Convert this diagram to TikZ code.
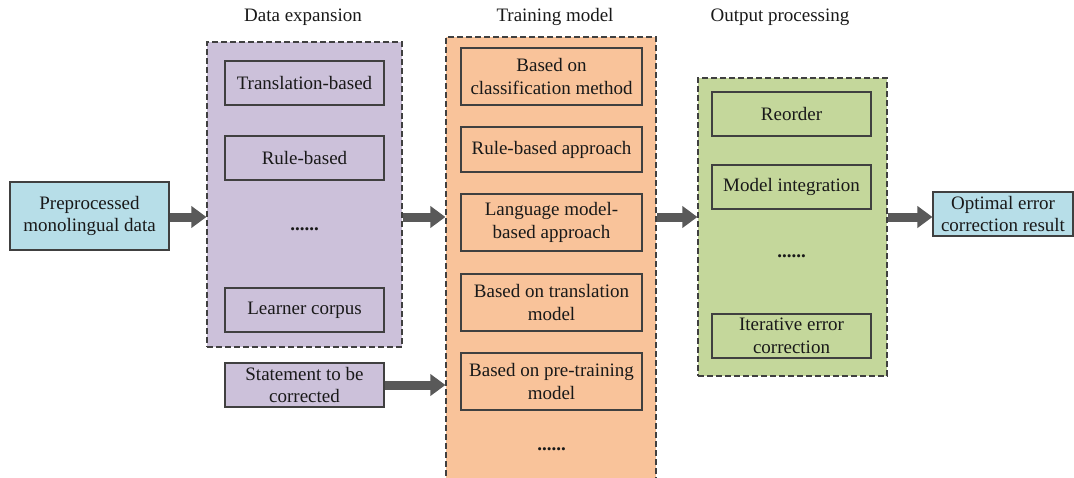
\documentclass[tikz,border=0pt]{standalone}
\usepackage{fontspec}
\setmainfont{Liberation Serif}
\usetikzlibrary{arrows.meta}
\definecolor{purp}{HTML}{CCC1DA}
\definecolor{oran}{HTML}{F9C39A}
\definecolor{gren}{HTML}{C4D79B}
\definecolor{blu}{HTML}{B7DEE8}
\definecolor{arr}{HTML}{595959}
\definecolor{edge}{HTML}{404040}
\begin{document}
\begin{tikzpicture}[x=1pt,y=-1pt,
  every node/.style={font=\fontsize{19}{22.5}\selectfont, text=black!90},
  group/.style={draw=edge, line width=1.2pt, dash pattern=on 6pt off 3pt, inner sep=0pt},
  item/.style={draw=edge, line width=1.1pt, align=center, inner sep=0pt},
  dots/.style={font=\fontsize{19}{22.5}\selectfont\bfseries},
  bigarrow/.style={draw=arr, line width=9pt, -{Triangle[length=15pt,width=21pt]}, shorten <=0.6pt}
]
\useasboundingbox (0,0) rectangle (1074,477);
\fill[white] (0,0) rectangle (1074,477);
% titles
\node (t1) at (303,17) {Data expansion};
\node (t2) at (555,17) {Training model};
\node (t3) at (780,17) {Output processing};
% left input
\node[item, fill=blu, minimum width=159, minimum height=68] (pre) at (89.5,216) {Preprocessed\\monolingual data};
% data expansion
\node[group, fill=purp, minimum width=195, minimum height=305] (de) at (304.5,194.5) {};
\node[item, minimum width=159, minimum height=44] (tb) at (304.5,83) {Translation-based};
\node[item, minimum width=159, minimum height=44] (rb) at (304.5,158) {Rule-based};
\node[dots] (d1) at (304.5,229) {......};
\node[item, minimum width=159, minimum height=44] (lc) at (304.5,310) {Learner corpus};
\node[item, fill=purp, minimum width=159, minimum height=44] (st) at (304.5,385) {Statement to be\\corrected};
% training model
\node[group, fill=oran, minimum width=210, minimum height=443] (tm) at (551,258.5) {};
\node[item, minimum width=181, minimum height=57] (b1) at (551.5,76.5) {Based on\\classification method};
\node[item, minimum width=181, minimum height=45] (b2) at (551.5,149.5) {Rule-based approach};
\node[item, minimum width=181, minimum height=57] (b3) at (551.5,222.5) {Language model-\\based approach};
\node[item, minimum width=181, minimum height=57] (b4) at (551.5,302.5) {Based on translation\\model};
\node[item, minimum width=181, minimum height=57] (b5) at (551.5,381.5) {Based on pre-training\\model};
\node[dots] (d2) at (551.5,449) {......};
% output processing
\node[group, fill=gren, minimum width=189, minimum height=298] (op) at (792.5,227) {};
\node[item, minimum width=159, minimum height=44] (r1) at (791.5,114) {Reorder};
\node[item, minimum width=159, minimum height=44] (r2) at (791.5,187) {Model integration};
\node[dots] (d3) at (791.5,256) {......};
\node[item, minimum width=159, minimum height=44] (r3) at (791.5,336) {Iterative error\\correction};
% result
\node[item, fill=blu, minimum width=140, minimum height=44] (opt) at (1003,214) {Optimal error\\correction result};
% arrows
\draw[bigarrow] (pre.east |- 0,217) -- (de.west |- 0,217);
\draw[bigarrow] (de.east |- 0,217) -- (tm.west |- 0,217);
\draw[bigarrow] (st.east) -- (st.east -| tm.west);
\draw[bigarrow] (tm.east |- 0,217) -- (op.west |- 0,217);
\draw[bigarrow] (op.east |- 0,217) -- (opt.west |- 0,217);
\end{tikzpicture}
\end{document}
